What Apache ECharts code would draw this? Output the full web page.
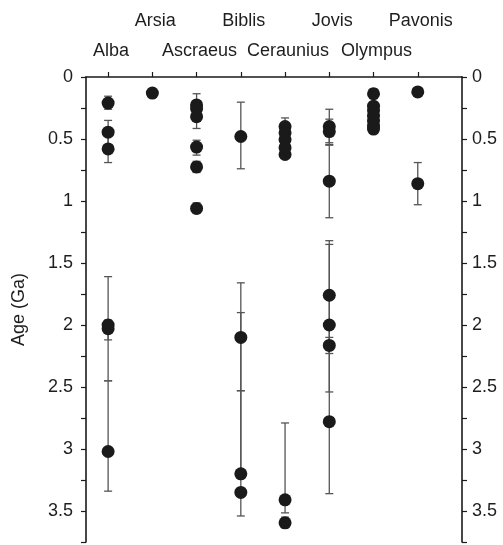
<!DOCTYPE html>
<html>
<head>
<meta charset="utf-8">
<script src="https://cdn.jsdelivr.net/npm/echarts@6/dist/echarts.min.js"></script>
<style>html,body{margin:0;padding:0;background:#fff}#c{width:503px;height:545px}</style>
</head>
<body>
<div id="c"></div>
<script>
// Categories (volcanoes), placed at x = 1..8
const categories = ['Alba', 'Arsia', 'Ascraeus', 'Biblis', 'Ceraunius', 'Jovis', 'Olympus', 'Pavonis'];
// Each entry: [age (Ga), error low, error high] (null = no error bar)
const alba = [[0.21, 0.155, 0.26], [0.445, 0.35, 0.55], [0.58, 0.47, 0.69], [2.00, 1.61, 2.45], [2.03, 1.96, 2.12], [3.02, 2.45, 3.34]];
const arsia = [[0.13, null, null]];
const ascraeus = [[0.225, 0.135, 0.30], [0.255, null, null], [0.32, 0.23, 0.415], [0.565, 0.51, 0.63], [0.725, 0.68, 0.77], [1.06, 1.015, 1.10]];
const biblis = [[0.48, 0.203, 0.74], [2.10, 1.66, 2.53], [3.20, 1.90, 3.22], [3.35, 2.53, 3.54]];
const ceraunius = [[0.40, 0.33, 0.47], [0.45, null, null], [0.505, null, null], [0.57, null, null], [0.625, null, null], [3.41, 2.79, 3.515], [3.595, 3.55, 3.635]];
const jovis = [[0.40, 0.26, 0.53], [0.44, 0.34, 0.545], [0.84, 0.55, 1.135], [1.76, 1.32, 2.20], [2.00, 1.35, 2.54], [2.165, 2.10, 2.23], [2.78, 2.20, 3.36]];
const olympus = [[0.135, 0.095, 0.175], [0.235, null, null], [0.27, null, null], [0.315, null, null], [0.355, null, null], [0.395, null, null], [0.42, null, null]];
const pavonis = [[0.12, null, null], [0.86, 0.69, 1.03]];
const groups = [alba, arsia, ascraeus, biblis, ceraunius, jovis, olympus, pavonis];

const points = [];
const errors = [];
groups.forEach((g, i) => {
  g.forEach(p => {
    points.push([i + 1, p[0]]);
    if (p[1] != null) errors.push([i + 1, p[1], p[2]]);
  });
});

const catPos = categories.map((c, i) => i + 1);
const lowerRow = catPos.filter((v, i) => i % 2 === 0);
const upperRow = catPos.filter((v, i) => i % 2 === 1);
const FONT = '"Liberation Sans", Arial, sans-serif';
const TXT = '#1e1e1e';

const chart = echarts.init(document.getElementById('c'), null, {renderer: 'canvas'});
const yBase = {
  type: 'value', min: 0, max: 3.75, interval: 0.25, inverse: true,
  splitLine: {show: false},
  axisLine: {show: true, lineStyle: {color: '#1a1a1a', width: 1.6}},
  axisTick: {show: true, length: 5, lineStyle: {color: '#1a1a1a', width: 1.2}},
  axisLabel: {
    color: TXT, fontSize: 18, fontFamily: FONT,
    formatter: v => (Math.abs(v * 2 - Math.round(v * 2)) < 1e-6 ? String(+v.toFixed(2)) : '')
  }
};
const option = {
  animation: false,
  grid: {left: 86, right: 41, top: 77, height: 465},
  xAxis: [
    {
      type: 'value', min: 0.5, max: 9, position: 'top',
      splitLine: {show: false},
      axisLine: {show: true, lineStyle: {color: '#1a1a1a', width: 1.6}},
      axisTick: {show: true, length: 5, customValues: catPos, lineStyle: {color: '#1a1a1a', width: 1.2}},
      axisLabel: {
        show: true, customValues: lowerRow, margin: 17, padding: [0, 0, 0, 6],
        color: TXT, fontSize: 18, fontFamily: FONT,
        formatter: v => categories[Math.round(v) - 1]
      }
    },
    {
      type: 'value', min: 0.5, max: 9, position: 'top',
      splitLine: {show: false}, axisLine: {show: false}, axisTick: {show: false},
      axisLabel: {
        show: true, customValues: upperRow, margin: 47, padding: [0, 0, 0, 6],
        color: TXT, fontSize: 18, fontFamily: FONT,
        formatter: v => categories[Math.round(v) - 1]
      }
    }
  ],
  yAxis: [
    Object.assign({}, yBase, {
      position: 'left', name: 'Age (Ga)', nameLocation: 'middle', nameGap: 58,
      nameTextStyle: {color: TXT, fontSize: 18, fontFamily: FONT},
      axisLabel: Object.assign({}, yBase.axisLabel, {margin: 13})
    }),
    Object.assign({}, yBase, {
      position: 'right',
      axisLabel: Object.assign({}, yBase.axisLabel, {margin: 10})
    })
  ],
  series: [
    {
      type: 'custom', xAxisIndex: 0, yAxisIndex: 0, data: errors, z: 2,
      renderItem: (params, api) => {
        const x = api.value(0);
        const lo = api.coord([x, api.value(1)]);
        const hi = api.coord([x, api.value(2)]);
        const w = 4;
        const st = {stroke: '#555', lineWidth: 1.3};
        return {
          type: 'group',
          children: [
            {type: 'line', shape: {x1: lo[0], y1: lo[1], x2: hi[0], y2: hi[1]}, style: st},
            {type: 'line', shape: {x1: lo[0] - w, y1: lo[1], x2: lo[0] + w, y2: lo[1]}, style: st},
            {type: 'line', shape: {x1: hi[0] - w, y1: hi[1], x2: hi[0] + w, y2: hi[1]}, style: st}
          ]
        };
      }
    },
    {
      type: 'scatter', xAxisIndex: 0, yAxisIndex: 0, data: points, z: 3,
      symbol: 'circle', symbolSize: 13,
      itemStyle: {color: '#1a1a1a', opacity: 1}
    }
  ]
};
chart.setOption(option);
</script>
</body>
</html>
